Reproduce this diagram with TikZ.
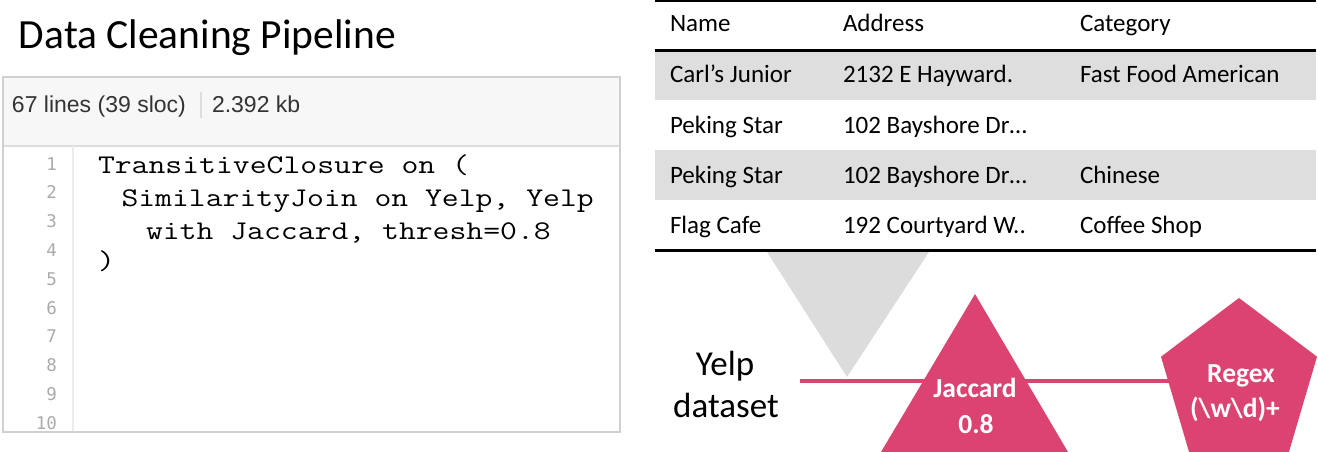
\documentclass[tikz,border=0pt]{standalone}
\usepackage{fontspec}
\usepackage{graphicx}
\setmainfont{Carlito}
\newfontfamily\hdrfont{Liberation Sans}
\newfontfamily\numfont{DejaVu Sans Mono}
\definecolor{pinkc}{RGB}{219,68,112}
\definecolor{grayc}{RGB}{220,220,220}
\definecolor{bandc}{RGB}{222,222,222}
\definecolor{hdrbg}{RGB}{247,247,247}
\definecolor{boxline}{RGB}{208,208,208}
\definecolor{sepline}{RGB}{221,221,221}
\definecolor{gutline}{RGB}{236,236,236}
\definecolor{hdrtext}{RGB}{51,51,51}
\definecolor{numc}{RGB}{170,170,170}
\begin{document}
\begin{tikzpicture}[x=1pt,y=-1pt,
  txt/.style={inner sep=0pt,outer sep=0pt},
  hdr/.style={txt,anchor=base west,text=hdrtext,font=\hdrfont\fontsize{23}{23}\selectfont},
  lnum/.style={txt,anchor=base east,text=numc,font=\numfont\fontsize{17.5}{17.5}\selectfont},
  code/.style={txt,anchor=base west,font=\ttfamily\fontsize{27}{27}\selectfont},
  cell/.style={txt,anchor=base west,font=\fontsize{25}{25}\selectfont},
  shapetxt/.style={txt,anchor=base,text=white,font=\bfseries\fontsize{27.5}{27.5}\selectfont},
  big/.style={txt,anchor=base,font=\fontsize{35}{35}\selectfont}]
\useasboundingbox (0,0) rectangle (1318,452);

% title
\node[txt,anchor=base west,font=\fontsize{41.5}{41.5}\selectfont] (title) at (19,49) {Data Cleaning Pipeline};

% code box
\fill[hdrbg] (3,77) rectangle (620,146);
\draw[sepline,line width=1.2pt] (3,146) -- (620,146);
\draw[gutline,line width=1.2pt] (73,146) -- (73,432);
\draw[boxline,line width=1.5pt] (3,77) rectangle (620,432);
\node[hdr] (lines) at (12,112) {67 lines (39 sloc)};
\draw[sepline,line width=1.2pt] (201,92) -- (201,118);
\node[hdr] (size) at (212,112) {2.392 kb};

\foreach \i in {1,...,10}
  \node[lnum] (ln\i) at (57,{170+28.8*(\i-1)}) {\i};

\node[code] (c1) at (98,173) {\scalebox{1.213}[1]{TransitiveClosure on (}};
\node[code] (c2) at (121.5,206) {\scalebox{1.213}[1]{SimilarityJoin on Yelp, Yelp}};
\node[code] (c3) at (146,239) {\scalebox{1.213}[1]{with Jaccard, thresh=0.8}};
\node[code] (c4) at (98,269) {\scalebox{1.213}[1]{)}};

% table
\fill[bandc] (655,51) rectangle (1316,100);
\fill[bandc] (655,150) rectangle (1316,200);
\draw[line width=2pt] (655,1.5) -- (1316,1.5);
\draw[line width=2.5pt] (655,50.5) -- (1316,50.5);
\draw[line width=2.5pt] (655,250.5) -- (1316,250.5);

\node[cell] (hName) at (670,32) {Name};
\node[cell] (hAddr) at (843,32) {Address};
\node[cell] (hCat) at (1080,32) {Category};

\node[cell] (n1) at (670,83) {Carl’s Junior};
\node[cell] (a1) at (843,83) {2132 E Hayward.};
\node[cell] (k1) at (1080,83) {Fast Food American};

\node[cell] (n2) at (670,133) {Peking Star};
\node[cell] (a2) at (843,133) {102 Bayshore Dr…};

\node[cell] (n3) at (670,183) {Peking Star};
\node[cell] (a3) at (843,183) {102 Bayshore Dr…};
\node[cell] (k3) at (1080,183) {Chinese};

\node[cell] (n4) at (670,233) {Flag Cafe};
\node[cell] (a4) at (843,233) {192 Courtyard W..};
\node[cell] (k4) at (1080,233) {Coffee Shop};

% pipeline
\fill[grayc] (767,252) -- (929,252) -- (847,377) -- cycle;
\coordinate (lstart) at (800,381);
\coordinate (regexin) at (1180,381);
\draw[pinkc,line width=4pt] (lstart) -- (regexin);
\fill[pinkc] (975,294) -- (1068,452) -- (881,452) -- cycle;
\fill[pinkc] (1239,298) -- (1317,356.7) -- (1289,451.8) -- (1189,451.8) -- (1161,356.7) -- cycle;

\node[big] (yelp) at (725,375) {Yelp};
\node[big] (dataset) at (726,417) {dataset};

\node[shapetxt] (jac1) at (975,397) {Jaccard};
\node[shapetxt] (jac2) at (976,433) {0.8};
\node[shapetxt] (rg1) at (1241,382) {Regex};
\node[shapetxt] (rg2) at (1235,417) {(\textbackslash w\textbackslash d)+};
\end{tikzpicture}
\end{document}
